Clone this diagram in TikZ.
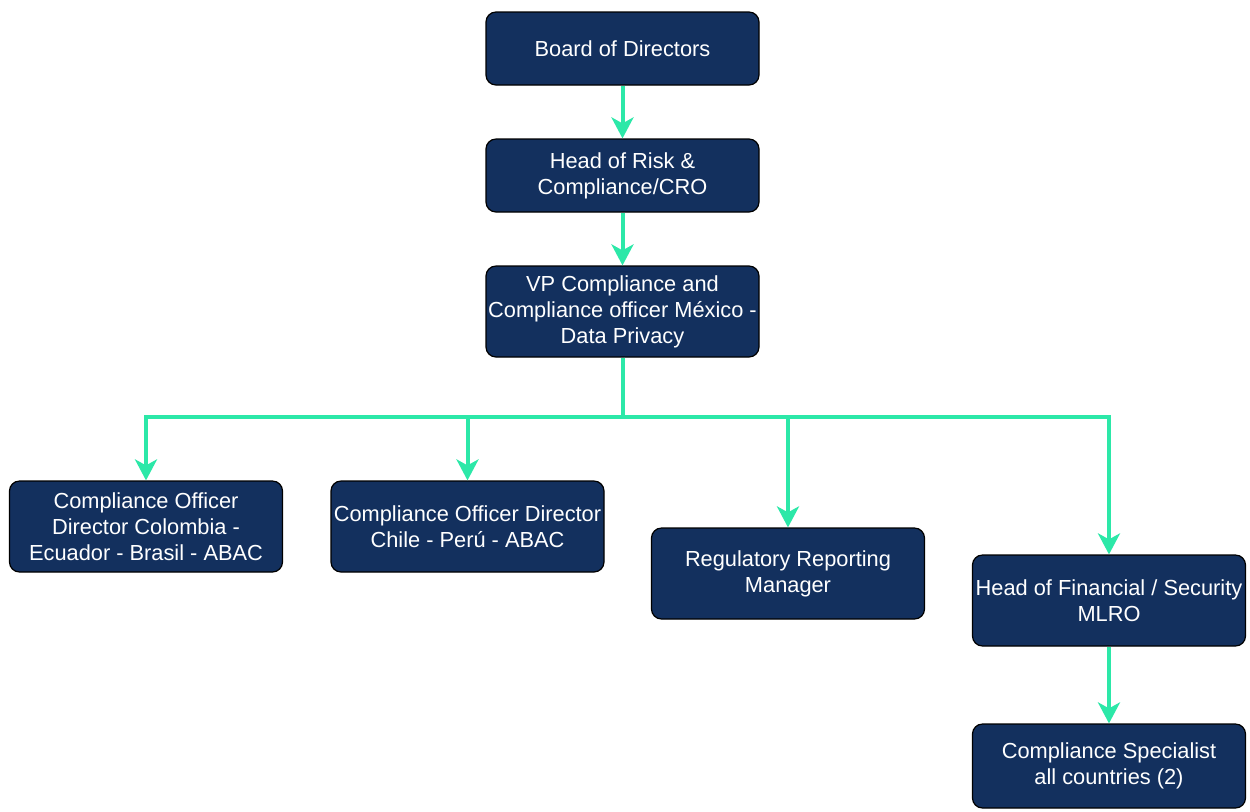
\documentclass[tikz,border=0pt]{standalone}
\usepackage{fontspec}
\setmainfont{Liberation Sans}
\usetikzlibrary{arrows.meta}
\definecolor{navy}{RGB}{19,48,94}
\definecolor{mint}{RGB}{44,232,168}
\begin{document}
\begin{tikzpicture}[x=0.5pt,y=-0.5pt,
  role/.style={draw=black, line width=0.6pt, fill=navy, rounded corners=5pt,
    text=white, align=center, inner sep=0pt, minimum width=136.5pt,
    font=\fontsize{10.9pt}{13pt}\selectfont},
  link/.style={draw=mint, line width=2pt, -{Stealth[length=10.5pt,width=11pt,inset=3pt]}}]
  \path[use as bounding box, fill=white] (0,0) rectangle (1250,811);

  % reporting chain
  \node[role, minimum height=36.5pt] (board) at (622.5,48.5) {Board of Directors};
  \node[role, minimum height=36.5pt] (cro) at (622.5,175.5) {Head of Risk \&\\Compliance/CRO};
  \node[role, minimum height=45.5pt] (vp) at (622.5,311.5) {VP Compliance and\\Compliance officer México -\\Data Privacy};

  % direct reports of the VP
  \node[role, minimum height=45.5pt] (col) at (146,526.5) {Compliance Officer\\Director Colombia -\\Ecuador - Brasil - ABAC};
  \node[role, minimum height=45.5pt] (chl) at (467.5,526.5) {Compliance Officer Director\\Chile - Perú - ABAC};
  \node[role, minimum height=45.5pt] (reg) at (788,573.5) {Regulatory Reporting\\Manager};
  \node[role, minimum height=45.5pt] (mlro) at (1109,600.5) {Head of Financial / Security\\MLRO};
  \node[role, minimum height=42pt] (spec) at (1109,766) {Compliance Specialist\\all countries (2)};

  \coordinate (bar) at (622.5,417);

  \draw[link] (board.south) -- (cro.north);
  \draw[link] (cro.south) -- (vp.north);
  \draw[link] (vp.south) -- (bar) -| (col.north);
  \draw[link] (vp.south) -- (bar) -| (chl.north);
  \draw[link] (vp.south) -- (bar) -| (reg.north);
  \draw[link] (vp.south) -- (bar) -| (mlro.north);
  \draw[link] (mlro.south) -- (spec.north);
\end{tikzpicture}
\end{document}
